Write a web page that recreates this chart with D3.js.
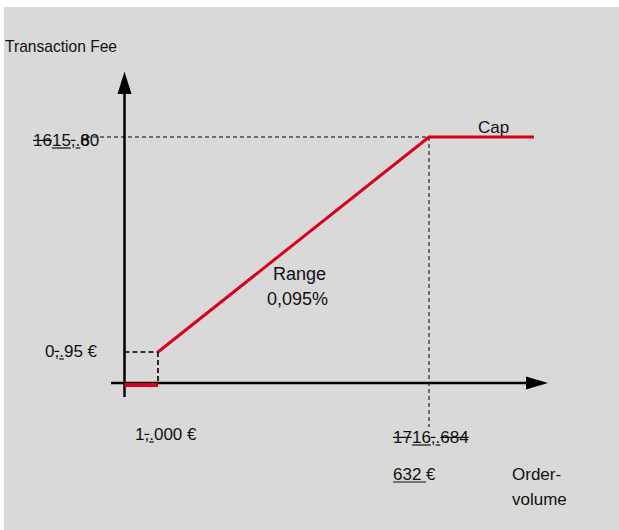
<!DOCTYPE html>
<html><head><meta charset="utf-8">
<script src="https://cdn.jsdelivr.net/npm/d3@7"></script>
<style>html,body{margin:0;padding:0;background:#fff;}svg{display:block;}</style>
</head><body>
<script>
// Schematic data (piecewise scales, not to scale)
const orderVolume = [0, 1000, 16632, 22000];
const feeRange = [0.95, 15.80, 15.80];          // fee at 1000, 16632, cap end
const minSegment = [0, 1000];                   // red segment along x axis
const rangeLabel = ["Range", "0,095%"];

const W = 619, H = 530;
const svg = d3.select("body").append("svg").attr("width", W).attr("height", H);
svg.append("rect").attr("x", 4).attr("y", 7).attr("width", W - 4).attr("height", H - 7).attr("fill", "#d9d9d9");

const x = d3.scaleLinear().domain(orderVolume).range([124.5, 158, 429, 534]);
const y = d3.scaleLinear().domain([0, 0.95, 15.80]).range([383, 352, 137]);

const FONT = "Liberation Sans, Arial, sans-serif";
const RED = "#d9001e";

// dashed guides
const g = svg.append("g");
g.append("line").attr("x1", x(0)).attr("x2", x(1000)).attr("y1", y(0.95)).attr("y2", y(0.95))
  .attr("stroke", "#000").attr("stroke-width", 1.6).attr("stroke-dasharray", "5,3");
g.append("line").attr("x1", x(1000)).attr("x2", x(1000)).attr("y1", y(0.95)).attr("y2", y(0))
  .attr("stroke", "#000").attr("stroke-width", 1.6).attr("stroke-dasharray", "5,3");
g.append("line").attr("x1", 86).attr("x2", x(16632)).attr("y1", y(15.80)).attr("y2", y(15.80))
  .attr("stroke", "#000").attr("stroke-width", 1).attr("stroke-dasharray", "4,3");
g.append("line").attr("x1", x(16632)).attr("x2", x(16632)).attr("y1", y(15.80)).attr("y2", 427)
  .attr("stroke", "#000").attr("stroke-width", 1).attr("stroke-dasharray", "4,3");

// axes
const ax = svg.append("g");
ax.append("line").attr("x1", 111).attr("x2", 527).attr("y1", y(0)).attr("y2", y(0)).attr("stroke", "#000").attr("stroke-width", 2.5);
ax.append("path").attr("d", `M526,${y(0)-6.5}L548,${y(0)}L526,${y(0)+6.5}Z`).attr("fill", "#000");
ax.append("line").attr("x1", x(0)).attr("x2", x(0)).attr("y1", 397).attr("y2", 92).attr("stroke", "#000").attr("stroke-width", 2.5);
ax.append("path").attr("d", `M${x(0)-7},94L${x(0)},71.5L${x(0)+7},94Z`).attr("fill", "#000");

// red fee curve
const line = d3.line().x(d => x(d[0])).y(d => y(d[1]));
svg.append("path").datum(minSegment.map(v => [v, 0]))
  .attr("d", d3.line().x(d => x(d[0])).y(() => y(0) + 2)).attr("stroke", RED).attr("stroke-width", 4).attr("fill", "none");
svg.append("path").datum(orderVolume.slice(1).map((v, i) => [v, feeRange[i]]))
  .attr("d", line).attr("stroke", RED).attr("stroke-width", 3).attr("fill", "none");

// text helper with track-change decorations: 's' strike, 'u' underline, '' none
function richText(px, py, segs, size) {
  let cx = px;
  segs.forEach(([t, deco]) => {
    const el = svg.append("text").attr("x", cx).attr("y", py).attr("font-family", FONT)
      .attr("font-size", size).attr("fill", "#111").text(t);
    const w = el.node().getComputedTextLength();
    if (deco === "s") svg.append("line").attr("x1", cx).attr("x2", cx + w).attr("y1", py - size * 0.33).attr("y2", py - size * 0.33).attr("stroke", "#111").attr("stroke-width", 1.2);
    if (deco === "u") svg.append("line").attr("x1", cx).attr("x2", cx + w).attr("y1", py + 2).attr("y2", py + 2).attr("stroke", "#111").attr("stroke-width", 1.2);
    cx += w;
  });
  return cx;
}

svg.append("text").attr("x", 5).attr("y", 52).attr("font-family", FONT).attr("font-size", 17)
  .attr("textLength", 112).attr("lengthAdjust", "spacingAndGlyphs").attr("fill", "#111").text("Transaction Fee");

// y labels
const endX = richText(33, 146, [["16", "s"], ["15", "u"], [",", "s"], [".", "u"]], 17);
const t80 = svg.append("text").attr("x", endX).attr("y", 146).attr("font-family", FONT).attr("font-size", 17).attr("fill", "#111");
t80.append("tspan").text("8");
t80.append("tspan").attr("dx", -9.45).text("6");
t80.append("tspan").text("0");
richText(45, 357, [["0", ""], [",", "s"], [".", "u"], ["95 €", ""]], 17);

// x labels
richText(135, 440, [["1", ""], [",", "s"], [".", "u"], ["000 €", ""]], 17);
richText(393, 443, [["17", "s"], ["16", "u"], [",", "s"], [".", "u"], ["684", "s"]], 17);
richText(393, 480, [["632\u00a0", "u"], ["€", ""]], 17);

svg.append("text").attr("x", 512).attr("y", 480).attr("font-family", FONT).attr("font-size", 17).attr("fill", "#111").text("Order-");
svg.append("text").attr("x", 512).attr("y", 505).attr("font-family", FONT).attr("font-size", 17).attr("fill", "#111").text("volume");

svg.append("text").attr("x", 478).attr("y", 133).attr("font-family", FONT).attr("font-size", 17).attr("fill", "#111").text("Cap");
svg.append("text").attr("x", 273).attr("y", 280).attr("font-family", FONT).attr("font-size", 18).attr("fill", "#111").text(rangeLabel[0]);
svg.append("text").attr("x", 267).attr("y", 305).attr("font-family", FONT).attr("font-size", 18).attr("fill", "#111").text(rangeLabel[1]);
</script>
</body></html>
